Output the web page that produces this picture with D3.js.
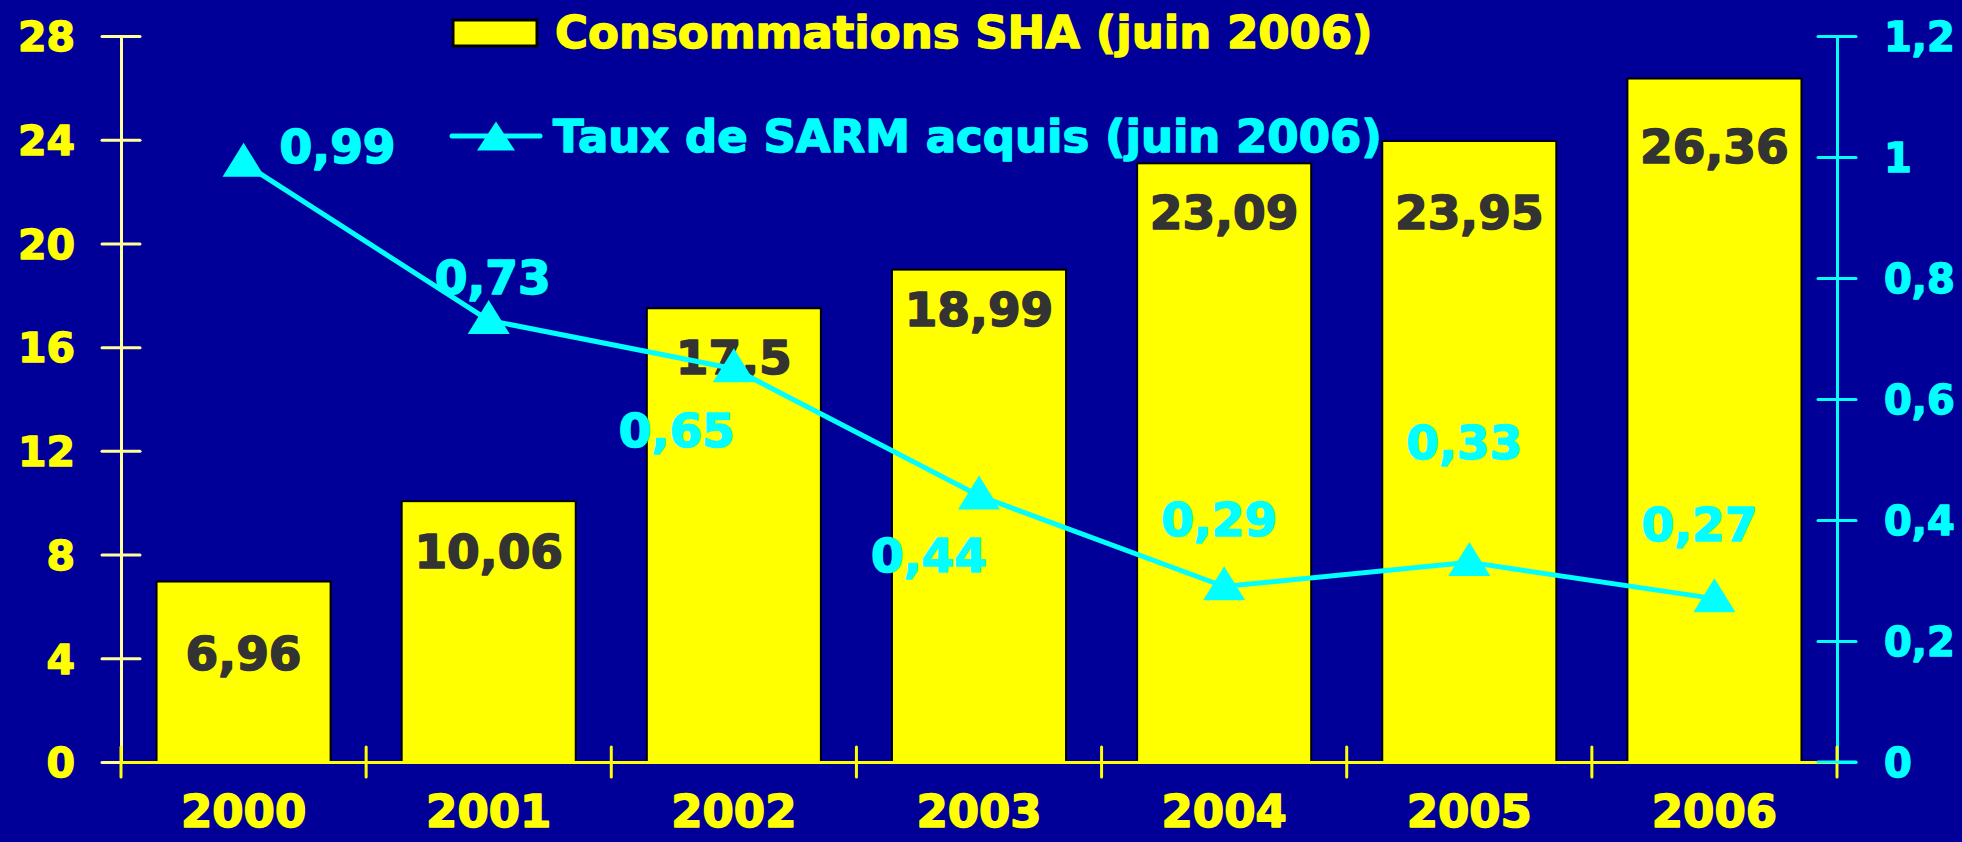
<!DOCTYPE html>
<html>
<head>
<meta charset="utf-8">
<script src="https://cdn.jsdelivr.net/npm/d3@7"></script>
<style>
  html, body { margin: 0; padding: 0; background: #000099; overflow: hidden; }
  svg { display: block; }
  text { font-family: "DejaVu Sans", sans-serif; font-weight: bold; }
</style>
</head>
<body>
<svg id="chart"></svg>
<script>
// data
let years = ["2000", "2001", "2002", "2003", "2004", "2005", "2006"],
  sha = [6.96, 10.06, 17.5, 18.99, 23.09, 23.95, 26.36],
  sarm = [0.99, 0.73, 0.65, 0.44, 0.29, 0.33, 0.27],
  leftTicks = [0, 4, 8, 12, 16, 20, 24, 28],
  rightTicks = [0, 0.2, 0.4, 0.6, 0.8, 1, 1.2],
  legendLabels = ["Consommations SHA (juin 2006)", "Taux de SARM acquis (juin 2006)"];

// hand placement of the value labels, relative to each mark
let shaDy = [88, 67, 66, 56, 66, 88, 84],
  sarmDx = [94, 4, -57, -50, -5, -5, -15],
  sarmDy = [0, -26, 78, 76, -51, -103, -58];

let width = 1962,
  height = 842,
  margins = {left: 121, right: 125, top: 36, bottom: 80},
  yellow = "#ffff00",
  paleYellow = "#ffff99",
  cyan = "#00ffff";

let svg = d3.select("#chart").attr("width", width).attr("height", height);
svg.append("rect").attr("width", width).attr("height", height).attr("fill", "#000099");

let x = d3.scaleBand()
  .domain(years)
  .range([margins.left, width - margins.right])
  .paddingInner(0.29)
  .paddingOuter(0.145);
let yL = d3.scaleLinear().domain([0, 28]).range([height - margins.bottom, margins.top]);
let yR = d3.scaleLinear().domain([0, 1.2]).range([height - margins.bottom, margins.top]);
let comma = d => String(d).replace(".", ",");
let cx = (d, i) => x(years[i]) + x.bandwidth() / 2;
let heavy = (sel, color, w) => sel.attr("fill", color).attr("stroke", color)
  .attr("stroke-width", w).attr("stroke-linejoin", "round");

// bars
svg.append("g").selectAll("rect")
  .data(sha).enter()
  .append("rect")
  .attr("x", (d, i) => x(years[i]))
  .attr("y", d => yL(d))
  .attr("width", x.bandwidth())
  .attr("height", d => yL(0) - yL(d))
  .attr("fill", yellow)
  .attr("stroke", "#000")
  .attr("stroke-width", 2);

// bar values
svg.append("g").selectAll("text")
  .data(sha).enter()
  .append("text")
  .attr("x", cx)
  .attr("y", (d, i) => yL(d) + shaDy[i])
  .attr("text-anchor", "middle")
  .attr("font-size", 47)
  .call(heavy, "#333333", 1.6)
  .text(comma);

// left axis
let left = svg.append("g")
  .attr("transform", `translate(${margins.left},0)`)
  .call(d3.axisLeft(yL).tickValues(leftTicks).tickSize(0).tickPadding(46));
left.select(".domain").attr("stroke", paleYellow).attr("stroke-width", 3);
left.selectAll(".tick line").attr("x1", -19).attr("x2", 19)
  .attr("stroke", paleYellow).attr("stroke-width", 3).attr("stroke-linecap", "round");
left.selectAll(".tick text").attr("font-size", 41)
  .attr("font-family", "DejaVu Sans").attr("dy", "0.36em")
  .call(heavy, yellow, 1.4);

// right axis
let right = svg.append("g")
  .attr("transform", `translate(${width - margins.right},0)`)
  .call(d3.axisRight(yR).tickValues(rightTicks).tickSize(0).tickPadding(47).tickFormat(comma));
right.select(".domain").attr("stroke", cyan).attr("stroke-width", 3);
right.selectAll(".tick line").attr("x1", -19).attr("x2", 19)
  .attr("stroke", cyan).attr("stroke-width", 3).attr("stroke-linecap", "round");
right.selectAll(".tick text").attr("font-size", 40)
  .attr("font-family", "DejaVu Sans").attr("dy", "0.36em")
  .call(heavy, cyan, 1.4);

// bottom axis
let bottom = svg.append("g")
  .attr("transform", `translate(0,${height - margins.bottom})`)
  .call(d3.axisBottom(x).tickSize(0).tickPadding(33));
bottom.select(".domain").attr("stroke", yellow).attr("stroke-width", 3);
bottom.selectAll(".tick text").attr("font-size", 45)
  .attr("font-family", "DejaVu Sans")
  .call(heavy, yellow, 1.6);
bottom.selectAll("line.bound")
  .data(d3.range(years.length + 1)).enter()
  .append("line")
  .attr("class", "bound")
  .attr("x1", i => x.range()[0] + i * x.step())
  .attr("x2", i => x.range()[0] + i * x.step())
  .attr("y1", -15).attr("y2", 15)
  .attr("stroke", yellow).attr("stroke-width", 3).attr("stroke-linecap", "round");
// cyan zero tick on top of the yellow baseline
svg.append("line")
  .attr("x1", width - margins.right - 19).attr("x2", width - margins.right + 19)
  .attr("y1", yR(0)).attr("y2", yR(0))
  .attr("stroke", cyan).attr("stroke-width", 3).attr("stroke-linecap", "round");

// SARM line
let triangle = (w, h) => `M0,${-h * 0.6}L${w / 2},${h * 0.4}L${-w / 2},${h * 0.4}Z`;
svg.append("path")
  .datum(sarm)
  .attr("d", d3.line().x(cx).y(d => yR(d)))
  .attr("fill", "none")
  .attr("stroke", cyan)
  .attr("stroke-width", 5);
svg.append("g").selectAll("path")
  .data(sarm).enter()
  .append("path")
  .attr("d", triangle(42, 34))
  .attr("transform", (d, i) => `translate(${cx(d, i)},${yR(d)})`)
  .attr("fill", cyan);
svg.append("g").selectAll("text")
  .data(sarm).enter()
  .append("text")
  .attr("x", (d, i) => cx(d, i) + sarmDx[i])
  .attr("y", (d, i) => yR(d) + sarmDy[i])
  .attr("text-anchor", "middle")
  .attr("font-size", 47)
  .call(heavy, cyan, 1.6)
  .text(comma);

// legend
let legend = svg.append("g");
legend.append("rect")
  .attr("x", 453).attr("y", 20).attr("width", 84).attr("height", 26)
  .attr("fill", yellow).attr("stroke", "#000").attr("stroke-width", 3);
legend.append("text")
  .attr("x", 555).attr("y", 48)
  .attr("font-size", 45)
  .call(heavy, yellow, 1.4)
  .text(legendLabels[0]);
legend.append("line")
  .attr("x1", 452).attr("x2", 540).attr("y1", 136).attr("y2", 136)
  .attr("stroke", cyan).attr("stroke-width", 5).attr("stroke-linecap", "round");
legend.append("path")
  .attr("d", triangle(38, 29))
  .attr("transform", "translate(496,139)")
  .attr("fill", cyan);
legend.append("text")
  .attr("x", 553).attr("y", 152)
  .attr("font-size", 45)
  .call(heavy, cyan, 1.4)
  .text(legendLabels[1]);
</script>
</body>
</html>
